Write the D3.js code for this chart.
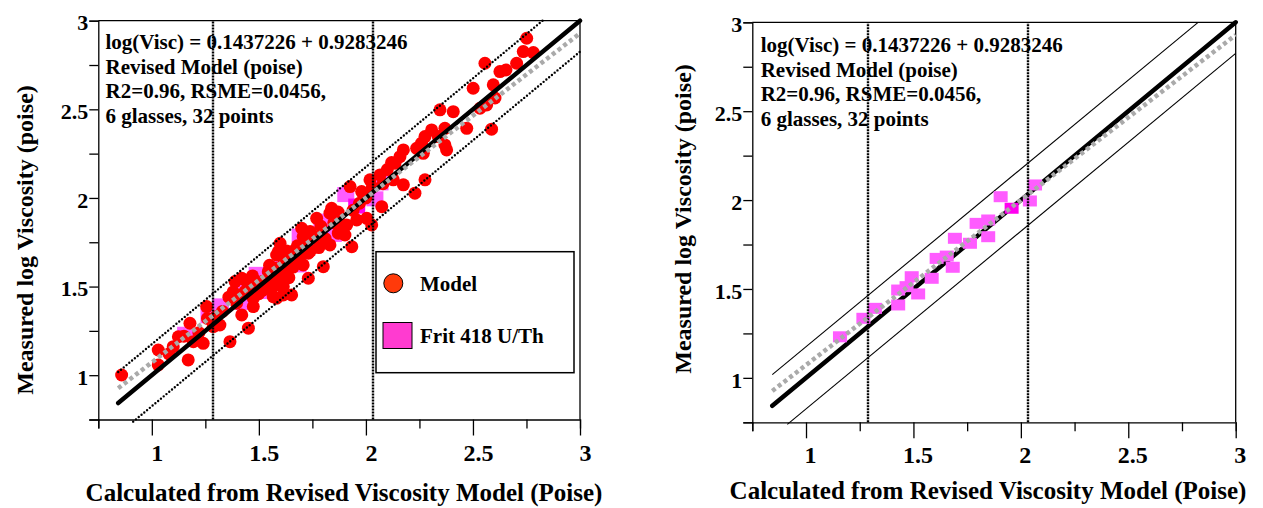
<!DOCTYPE html>
<html>
<head>
<meta charset="utf-8">
<script src="https://cdn.jsdelivr.net/npm/d3@7"></script>
<style>
  html, body { margin: 0; padding: 0; background: #fff; }
  svg { display: block; }
  text { font-family: "Liberation Serif", "Times New Roman", serif; font-weight: bold; fill: #000; }
</style>
</head>
<body>
<svg id="chart" width="1263" height="508"></svg>
<script>
// Model predictions vs measured log viscosity: [calculated, measured]
const modelPoints = [
  [0.859,1.001],[1.030,1.142],[1.030,1.058],[1.100,1.161],[1.124,1.217],[1.170,1.086],[1.178,1.293],
  [1.194,1.189],[1.240,1.180],[1.256,1.387],[1.287,1.274],[1.318,1.283],[1.365,1.189],[1.451,1.265],
  [1.396,1.406],[1.420,1.340],[1.435,1.537],[1.474,1.387],[1.490,1.528],[1.521,1.481],[1.567,1.443],
  [1.614,1.453],[1.653,1.453],[1.560,1.528],[1.599,1.547],[1.583,1.678],[1.575,1.603],[1.645,1.641],
  [1.707,1.622],[1.669,1.707],[1.707,1.782],[1.739,1.810],[1.770,1.885],[1.801,1.612],[1.832,1.914],
  [1.832,1.735],[1.871,1.801],[1.910,1.848],[1.934,1.725],[1.957,1.876],[2.004,1.885],[2.074,1.951],
  [1.420,1.547],[1.544,1.584],[1.591,1.697],[1.599,1.744],[1.614,1.660],[1.700,1.829],[1.731,1.688],
  [1.684,1.660],[1.840,1.942],[1.902,1.791],[1.926,2.064],[1.980,2.036],[2.019,2.102],[2.027,1.848],
  [2.066,2.130],[1.731,1.547],[1.583,1.434],[1.474,1.434],
  [2.751,2.901],[2.735,2.826],[2.782,2.820],[2.704,2.760],[2.556,2.760],[2.626,2.713],[2.654,2.722],
  [2.595,2.638],[2.603,2.564],[2.501,2.619],[2.533,2.506],[2.564,2.525],[2.346,2.497],[2.408,2.487],
  [2.587,2.388],[2.369,2.393],[2.307,2.384],[2.276,2.346],[2.260,2.309],[2.338,2.346],[2.369,2.299],
  [2.377,2.271],[2.471,2.393],[2.175,2.271],[2.159,2.233],[2.237,2.280],[2.136,2.196],[2.276,2.102],
  [2.128,2.102],[2.175,2.074],[2.229,2.027],[2.268,2.252],
  [1.614,1.500],[1.560,1.490],[1.435,1.471],[1.389,1.528],
  [1.330,1.360],[1.360,1.440],[1.380,1.470],[1.410,1.450],[1.450,1.500],[1.470,1.560],[1.500,1.460],
  [1.520,1.530],[1.540,1.500],[1.550,1.620],[1.570,1.560],[1.590,1.510],[1.620,1.580],[1.630,1.700],
  [1.640,1.550],[1.660,1.610],[1.680,1.730],[1.690,1.670],[1.720,1.750],[1.740,1.700],[1.760,1.780],
  [1.780,1.720],[1.790,1.840],[1.810,1.770],[1.850,1.860],[1.870,1.920],[1.890,1.850],[1.940,1.930],
  [1.970,1.970],[2.000,2.000],[2.030,2.060],[2.080,2.080],[2.100,2.160],[2.120,2.200],[1.220,1.240],
  [1.260,1.320],[1.300,1.330],[1.150,1.220],[1.080,1.120]
];

// Frit 418 U/Th glasses: [calculated, measured]
const fritPoints = [
  [1.158,1.231],[1.267,1.335],[1.321,1.391],[1.429,1.494],[1.429,1.410],[1.468,1.513],[1.492,1.569],
  [1.522,1.472],[1.585,1.560],[1.608,1.672],[1.655,1.685],[1.683,1.622],[1.693,1.785],[1.763,1.757],
  [1.794,1.869],[1.848,1.888],[1.848,1.794],[1.906,2.019],[1.957,1.954],[2.042,1.995],[2.066,2.085]
];
// the frit point drawn in the deeper magenta
const fritDarkIndex = [18];

// axis ticks
const majorTicks = [1, 1.5, 2, 2.5, 3];
const minorTicks = [0.75, 1.25, 1.75, 2.25, 2.75];
const axisDomain = [0.75, 3];

// fitted model and bands
const fitIntercept = 0.1437226;
const fitSlope = 0.9283246;
const bandOffset = 0.175;
const lineStart = 0.843;
const splitLines = [1.288, 2.032];

const annotation = [
  "log(Visc) = 0.1437226 + 0.9283246",
  "Revised Model (poise)",
  "R2=0.96, RSME=0.0456,",
  "6 glasses, 32 points"
];
const xTitle = "Calculated from Revised Viscosity Model (Poise)";
const yTitle = "Measured log Viscosity (poise)";
const legendLabels = ["Model", "Frit 418 U/Th"];

const svg = d3.select("#chart");
const allTicks = majorTicks.concat(minorTicks).sort(d3.ascending);
const isMajor = v => majorTicks.some(m => Math.abs(m - v) < 1e-9);

function panel(cfg) {
  const x = d3.scaleLinear().domain(axisDomain).range([cfg.left, cfg.right]);
  const y = d3.scaleLinear().domain(axisDomain).range([cfg.bottom, cfg.top]);
  const g = svg.append("g");

  // frame: top and right edges
  g.append("line").attr("x1", cfg.left).attr("x2", cfg.right).attr("y1", cfg.top).attr("y2", cfg.top)
    .attr("stroke", "#000").attr("stroke-width", 1.3);
  g.append("line").attr("x1", cfg.right).attr("x2", cfg.right).attr("y1", cfg.top).attr("y2", cfg.bottom)
    .attr("stroke", "#000").attr("stroke-width", 1.3);

  // x axis
  const xa = g.append("g").attr("transform", `translate(0,${cfg.bottom})`)
    .call(d3.axisBottom(x).tickValues(allTicks).tickSizeOuter(0).tickSize(9)
      .tickFormat(v => isMajor(v) ? d3.format("")(v) : ""));
  xa.select(".domain").attr("stroke-width", 1.3);
  xa.selectAll(".tick line").attr("stroke-width", 1.3).attr("y2", v => isMajor(v) ? 16 : 9);
  xa.selectAll(".tick text").attr("y", 24).attr("dx", cfg.xLabelDx).attr("dy", "0.71em")
    .style("font-size", "24px").style("font-family", null);

  // y axis
  const ya = g.append("g").attr("transform", `translate(${cfg.left},0)`)
    .call(d3.axisLeft(y).tickValues(allTicks).tickSizeOuter(0).tickSize(9)
      .tickFormat(v => isMajor(v) ? d3.format("")(v) : ""));
  ya.select(".domain").attr("stroke-width", 1.3);
  ya.selectAll(".tick line").attr("stroke-width", 1.3);
  ya.selectAll(".tick text").attr("x", -10).attr("dy", "0.42em")
    .style("font-size", "22px").style("font-family", null);

  cfg.drawMarks(g, x, y);

  // annotation block
  g.append("g").selectAll("text").data(annotation).join("text")
    .attr("x", cfg.noteX).attr("y", (d, i) => cfg.noteY + i * 24.5)
    .style("font-size", "21px").text(d => d);

  // titles
  g.append("text").attr("x", cfg.xTitleX).attr("y", cfg.xTitleY).attr("text-anchor", "middle")
    .style("font-size", "25px").text(xTitle);
  g.append("text").attr("transform", `translate(${cfg.yTitleX},${cfg.yTitleY}) rotate(-90)`)
    .attr("text-anchor", "middle").style("font-size", "24px").text(yTitle);

  return { g, x, y };
}

function drawSplitLines(g, x, y) {
  g.append("g").selectAll("line").data(splitLines).join("line")
    .attr("x1", d => Math.round(x(d))).attr("x2", d => Math.round(x(d)))
    .attr("y1", y(axisDomain[0])).attr("y2", y(axisDomain[1]))
    .attr("stroke", "#000").attr("stroke-width", 2.4).attr("stroke-dasharray", "2,1");
}

function drawFitLines(g, x, y) {
  // 1:1 line
  g.append("line")
    .attr("x1", x(lineStart)).attr("y1", y(lineStart)).attr("x2", x(3)).attr("y2", y(3))
    .attr("stroke", "#000").attr("stroke-width", 4.5).attr("stroke-linecap", "round");
}
function drawRegression(g, x, y) {
  g.append("line")
    .attr("x1", x(lineStart)).attr("y1", y(fitIntercept + fitSlope * lineStart))
    .attr("x2", x(3)).attr("y2", y(fitIntercept + fitSlope * 3))
    .attr("stroke", "#aaaaaa").attr("stroke-width", 4.5).attr("stroke-dasharray", "4,3.2");
}
function drawBands(g, x, y, style) {
  const upper = [[lineStart, lineStart + bandOffset], [3 - bandOffset, 3]];
  const lower = [[axisDomain[0] + bandOffset - 0.012, axisDomain[0] - 0.012], [3, 3 - bandOffset]];
  [upper, lower].forEach(seg => {
    const l = g.append("line")
      .attr("x1", x(seg[0][0])).attr("y1", y(seg[0][1]))
      .attr("x2", x(seg[1][0])).attr("y2", y(seg[1][1]))
      .attr("stroke", "#000");
    if (style === "dotted") {
      l.attr("stroke-width", 2.4).attr("stroke-linecap", "round").attr("stroke-dasharray", "0,3.6");
    } else {
      l.attr("stroke-width", 1.1);
    }
  });
}

function drawFrit(g, x, y, w, h) {
  g.append("g").selectAll("rect").data(fritPoints).join("rect")
    .attr("x", d => x(d[0]) - w / 2).attr("y", d => y(d[1]) - h / 2)
    .attr("width", w).attr("height", h)
    .attr("fill", (d, i) => fritDarkIndex.includes(i) ? "#ff00f0" : "#ff5cff");
}

// Left panel: all model data with the frit subset
panel({
  left: 98.3, right: 580, top: 20.7, bottom: 419.5, xLabelDx: 5,
  noteX: 105.5, noteY: 49,
  xTitleX: 344, xTitleY: 501, yTitleX: 33, yTitleY: 240,
  drawMarks(g, x, y) {
    drawFrit(g, x, y, 17, 15);
    g.append("g").selectAll("circle").data(modelPoints).join("circle")
      .attr("cx", d => x(d[0])).attr("cy", d => y(d[1])).attr("r", 6.5)
      .attr("fill", "#ff0000");
    drawSplitLines(g, x, y);
    drawBands(g, x, y, "dotted");
    drawFitLines(g, x, y);
    drawRegression(g, x, y);

    // legend
    const lg = g.append("g");
    lg.append("rect").attr("x", 376).attr("y", 251.7).attr("width", 198).attr("height", 121)
      .attr("fill", "#fff").attr("stroke", "#000").attr("stroke-width", 1.5);
    lg.append("circle").attr("cx", 393.3).attr("cy", 283.3).attr("r", 9.5)
      .attr("fill", "#ff3a0a").attr("stroke", "#000").attr("stroke-width", 1);
    lg.append("rect").attr("x", 383).attr("y", 322.5).attr("width", 29).attr("height", 26)
      .attr("fill", "#ff3bd0").attr("stroke", "#000").attr("stroke-width", 1);
    lg.selectAll("text").data(legendLabels).join("text")
      .attr("x", 420).attr("y", (d, i) => 291 + i * 52)
      .style("font-size", "21px").text(d => d);
  }
});

// Right panel: frit glasses only
panel({
  left: 752.3, right: 1235.7, top: 22.3, bottom: 422.3, xLabelDx: 4,
  noteX: 760.7, noteY: 52,
  xTitleX: 988, xTitleY: 499, yTitleX: 691, yTitleY: 219,
  drawMarks(g, x, y) {
    drawBands(g, x, y, "solid");
    drawFitLines(g, x, y);
    drawFrit(g, x, y, 14, 11);
    drawSplitLines(g, x, y);
    drawRegression(g, x, y);
  }
});
</script>
</body>
</html>
